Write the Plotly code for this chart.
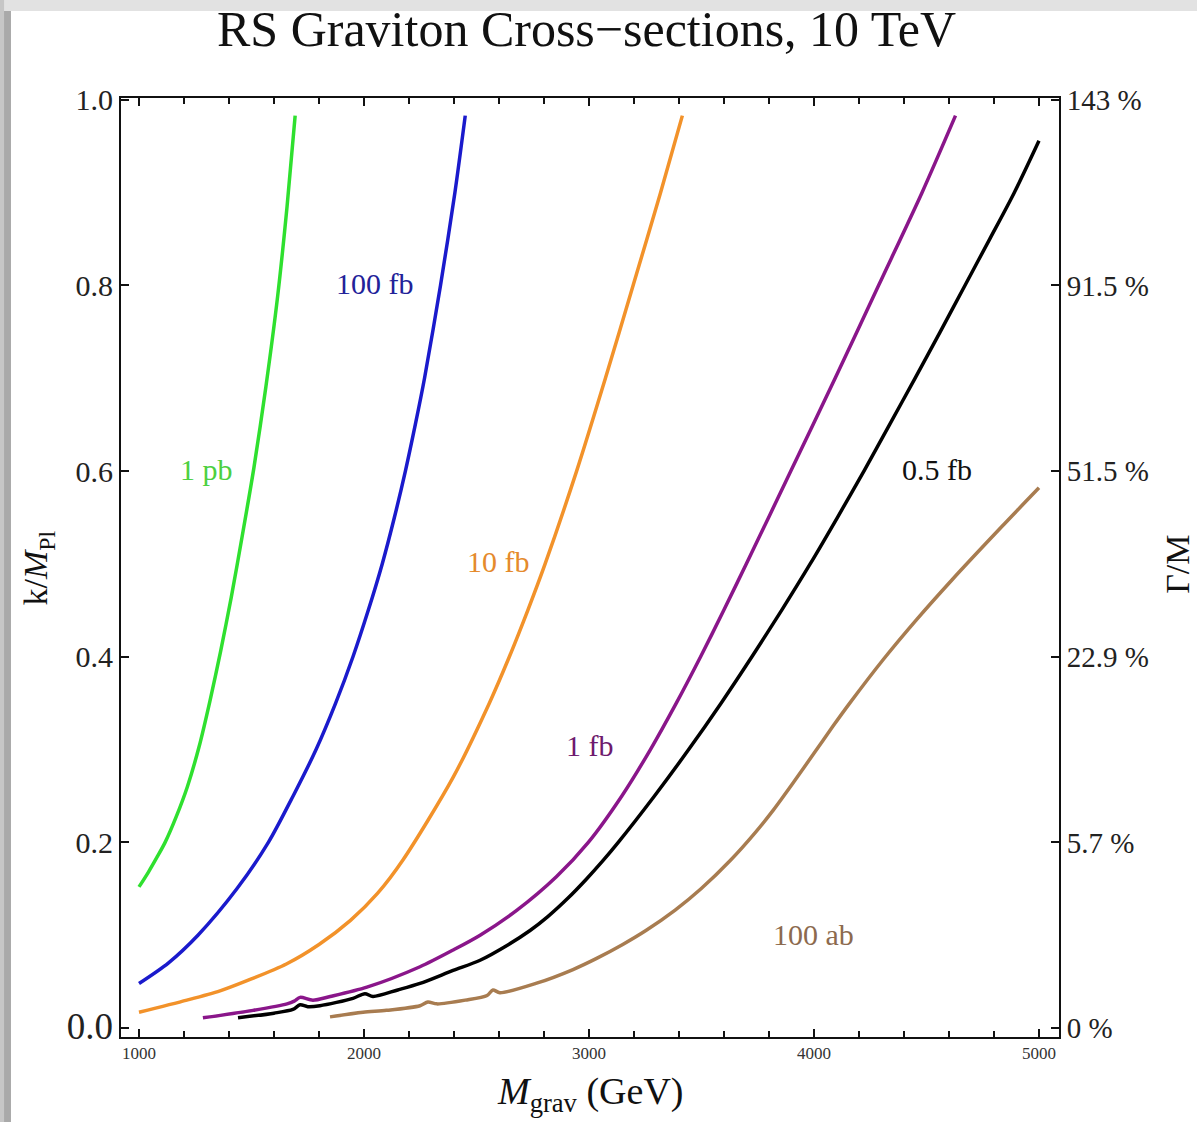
import plotly.graph_objects as go

# ---------------- data ----------------
m_1pb = [1000, 1042, 1080, 1116, 1166, 1215, 1267, 1315, 1362, 1410, 1458, 1511, 1564, 1616, 1658, 1694]
k_1pb = [0.152, 0.168, 0.184, 0.200, 0.228, 0.260, 0.303, 0.352, 0.405, 0.464, 0.529, 0.604, 0.691, 0.788,
         0.885, 0.983]

m_100fb = [1000, 1130, 1262, 1435, 1575, 1685, 1787, 1874, 1951, 2019, 2081, 2135, 2184, 2228, 2269, 2340, 2404,
           2450]
k_100fb = [0.048, 0.070, 0.100, 0.150, 0.200, 0.250, 0.300, 0.350, 0.400, 0.450, 0.500, 0.550, 0.600, 0.650,
           0.700, 0.800, 0.900, 0.983]

m_10fb = [1000, 1213, 1360, 1480, 1655, 1800, 1940, 2060, 2173, 2396, 2557, 2646, 2728, 2805, 2945, 3073, 3196,
          3318, 3415]
k_10fb = [0.017, 0.030, 0.040, 0.051, 0.069, 0.090, 0.116, 0.145, 0.181, 0.270, 0.350, 0.400, 0.450, 0.500,
          0.600, 0.700, 0.800, 0.900, 0.983]

m_1fb = [1284, 1507, 1658, 1690, 1716, 1773, 1850, 2013, 2249, 2396, 2516, 2680, 2855, 2997, 3146, 3273, 3388,
         3496, 3599, 3699, 3897, 4094, 4287, 4480, 4629]
k_1fb = [0.011, 0.019, 0.026, 0.029, 0.033, 0.030, 0.034, 0.044, 0.066, 0.084, 0.100, 0.127, 0.163, 0.200, 0.250,
         0.300, 0.350, 0.400, 0.450, 0.500, 0.600, 0.700, 0.800, 0.900, 0.983]

m_05fb = [1440, 1600, 1684, 1716, 1750, 1804, 1951, 2004, 2040, 2150, 2249, 2396, 2516, 2643, 2738, 2817, 2907,
          2987, 3061, 3130, 3291, 3443, 3587, 3724, 3856, 3983, 4104, 4222, 4336, 4449, 4561, 4671, 4781, 4890, 5000]
k_05fb = [0.011, 0.016, 0.020, 0.025, 0.023, 0.024, 0.032, 0.037, 0.034, 0.041, 0.048, 0.062, 0.073, 0.090, 0.105,
          0.120, 0.140, 0.160, 0.180, 0.200, 0.250, 0.300, 0.350, 0.400, 0.450, 0.500, 0.550, 0.600, 0.650,
          0.700, 0.750, 0.800, 0.850, 0.900, 0.956]

m_100ab = [1849, 1996, 2100, 2249, 2284, 2324, 2450, 2547, 2573, 2604, 2764, 2929, 3034, 3150, 3253, 3383, 3498,
           3630, 3737, 3820, 3910, 4000, 4084, 4159, 4308, 4456, 4614, 4834, 5000]
k_100ab = [0.012, 0.017, 0.019, 0.024, 0.028, 0.026, 0.030, 0.035, 0.041, 0.038, 0.048, 0.063, 0.075, 0.090, 0.105,
           0.127, 0.150, 0.181, 0.210, 0.235, 0.265, 0.296, 0.325, 0.350, 0.397, 0.440, 0.483, 0.540, 0.582]

series_names = ["1 pb", "100 fb", "10 fb", "1 fb", "0.5 fb", "100 ab"]
series_m = [m_1pb, m_100fb, m_10fb, m_1fb, m_05fb, m_100ab]
series_k = [k_1pb, k_100fb, k_10fb, k_1fb, k_05fb, k_100ab]
line_colors = ["#2fe02f", "#1a1acc", "#f2922a", "#8a168a", "#000000", "#a87c50"]

label_text = ["1 pb", "100 fb", "10 fb", "1 fb", "0.5 fb", "100 ab"]
label_m = [1302, 2049, 2600, 3004, 4547, 4000]
label_k = [0.602, 0.802, 0.503, 0.304, 0.602, 0.101]
label_colors = ["#4cd040", "#222299", "#e58a2c", "#6e1a6e", "#111111", "#8c6a4e"]

x_ticks = [1000, 2000, 3000, 4000, 5000]
y_ticks = [0.0, 0.2, 0.4, 0.6, 0.8, 1.0]
y_ticklabels = ["<span style='font-size:37px'>0.0</span>", "0.2", "0.4", "0.6", "0.8", "1.0"]
width_ticklabels = ["0 %", "5.7 %", "22.9 %", "51.5 %", "91.5 %", "143 %"]

FONT = "Liberation Serif"
XR = [920, 5089]
YR = [-0.0097, 1.002]

fig = go.Figure()
for name, mm, kk, col in zip(series_names, series_m, series_k, line_colors):
    fig.add_trace(go.Scatter(x=mm, y=kk, mode="lines", name=name,
                             line=dict(color=col, width=3.5, shape="spline", smoothing=0.8),
                             showlegend=False, hoverinfo="skip"))

# invisible trace to activate the right-hand axis
fig.add_trace(go.Scatter(x=[XR[0]], y=[0], yaxis="y2", mode="markers",
                         marker=dict(opacity=0), showlegend=False, hoverinfo="skip"))

for t, mm, kk, c in zip(label_text, label_m, label_k, label_colors):
    fig.add_annotation(x=mm, y=kk, xref="x", yref="y", text=t, showarrow=False,
                       font=dict(family=FONT, size=30, color=c))

# axis titles
fig.add_annotation(x=0.5, y=-0.061, xref="paper", yref="paper", showarrow=False,
                   text="<i>M</i><sub>grav</sub> (GeV)", font=dict(family=FONT, size=38, color="#111"),
                   xanchor="center", yanchor="middle")
fig.add_annotation(x=-0.0885, y=0.50, xref="paper", yref="paper", showarrow=False, textangle=-90,
                   text="k/<i>M</i><sub>Pl</sub>", font=dict(family=FONT, size=34, color="#111"),
                   xanchor="center", yanchor="middle")
fig.add_annotation(x=1.127, y=0.503, xref="paper", yref="paper", showarrow=False, textangle=-90,
                   text="Γ/M", font=dict(family=FONT, size=34, color="#111"),
                   xanchor="center", yanchor="middle")

# grey page frame (top and left edge)
fig.add_shape(type="rect", xref="paper", yref="paper", x0=-0.130, x1=1.15, y0=1.0927, y1=1.106,
              fillcolor="#e2e2e2", line=dict(width=0), layer="below")
fig.add_shape(type="rect", xref="paper", yref="paper", x0=-0.130, x1=-0.1247, y0=-0.1, y1=1.106,
              fillcolor="#c6c6c6", line=dict(width=0), layer="below")
fig.add_shape(type="rect", xref="paper", yref="paper", x0=-0.1247, x1=-0.1173, y0=-0.1, y1=1.0927,
              fillcolor="#a9a9a9", line=dict(width=0), layer="below")

fig.update_layout(
    width=1197, height=1122,
    margin=dict(l=121, r=138, t=98, b=85, pad=0),
    paper_bgcolor="white", plot_bgcolor="white",
    title=dict(text="RS Graviton Cross\u2212sections, 10 TeV", x=0.49, xanchor="center",
               y=0.975, yanchor="middle", font=dict(family=FONT, size=50, color="#111")),
    xaxis=dict(range=XR, tickvals=x_ticks, ticks="inside", ticklen=8, tickwidth=1.5, tickcolor="#111",
               showline=True, linecolor="#111", linewidth=2, mirror="ticks", showgrid=False, zeroline=False,
               tickfont=dict(family=FONT, size=17, color="#333"),
               minor=dict(dtick=200, tick0=1000, ticks="inside", ticklen=6, tickwidth=1.5, tickcolor="#111",
                          showgrid=False)),
    yaxis=dict(range=YR, tickvals=y_ticks, ticktext=y_ticklabels, ticks="inside", ticklen=8, tickwidth=1.5,
               tickcolor="#111", showline=True, linecolor="#111", linewidth=2, showgrid=False, zeroline=False,
               tickfont=dict(family=FONT, size=30, color="#222"), ticklabelstandoff=0),
    yaxis2=dict(range=YR, overlaying="y", side="right", tickvals=y_ticks, ticktext=width_ticklabels,
                ticks="inside", ticklen=8, tickwidth=1.5, tickcolor="#111", showline=True, linecolor="#111",
                linewidth=2, showgrid=False, zeroline=False,
                tickfont=dict(family=FONT, size=29, color="#222"), ticklabelstandoff=0),
)

fig.write_html("out.html")
